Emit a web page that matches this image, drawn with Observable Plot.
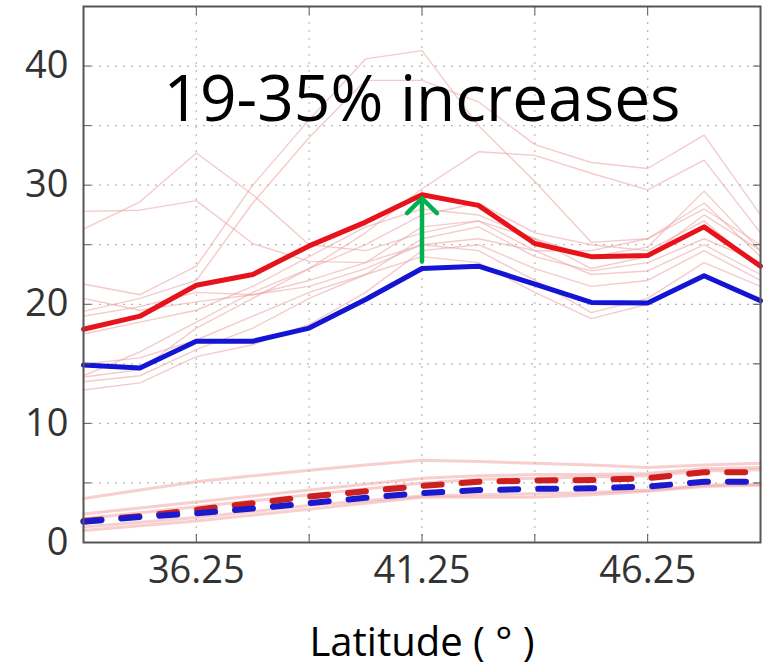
<!DOCTYPE html>
<html>
<head>
<meta charset="utf-8">
<script src="https://cdn.jsdelivr.net/npm/d3@7"></script>
<script src="https://cdn.jsdelivr.net/npm/@observablehq/plot@0.6"></script>
<style>
  html, body { margin: 0; padding: 0; background: #fff; }
  #chart svg { display: block; }
</style>
</head>
<body>
<div id="chart"></div>
<script>
// Latitudes (degrees)
const lat = [33.75, 35, 36.25, 37.5, 38.75, 40, 41.25, 42.5, 43.75, 45, 46.25, 47.5, 48.75];

// Bold series
const redThick  = [17.9, 19.0, 21.6, 22.5, 24.9, 26.9, 29.2, 28.3, 25.1, 24.0, 24.1, 26.5, 23.2];
const blueThick = [14.9, 14.65, 16.9, 16.9, 18.0, 20.4, 23.0, 23.2, 21.7, 20.15, 20.1, 22.4, 20.3];
const redDash   = [1.8, 2.2, 2.75, 3.3, 3.85, 4.3, 4.75, 5.1, 5.2, 5.25, 5.4, 5.9, 5.9];
const blueDash  = [1.75, 2.15, 2.45, 2.85, 3.3, 3.75, 4.15, 4.4, 4.5, 4.55, 4.7, 5.1, 5.1];

// Faint ensemble members (upper group)
const thinUpper = [
  [26.3, 28.6, 32.7, 29.2, 25.0, 24.5, 26.0, 27.0, 25.5, 23.0, 24.0, 27.5, 24.5],
  [27.8, 27.9, 28.7, 25.1, 23.6, 23.5, 25.0, 25.5, 24.5, 22.5, 22.8, 25.0, 22.5],
  [21.7, 20.8, 23.2, 30.0, 35.5, 40.6, 41.3, 35.0, 30.3, 25.2, 25.5, 28.5, 24.0],
  [19.4, 20.5, 22.0, 28.5, 34.0, 38.8, 38.8, 37.0, 33.4, 31.9, 31.4, 34.2, 27.5],
  [13.9, 14.5, 18.0, 20.5, 23.0, 26.0, 29.7, 32.8, 32.5, 31.0, 29.6, 32.1, 26.0],
  [12.8, 13.4, 15.6, 16.6, 18.3, 21.0, 24.5, 25.0, 23.0, 21.5, 22.0, 24.5, 22.0],
  [13.5, 14.0, 16.2, 18.0, 20.5, 22.5, 25.5, 26.5, 24.0, 22.8, 23.5, 25.5, 23.5],
  [19.0, 19.8, 21.0, 20.8, 22.0, 23.5, 26.5, 27.0, 24.5, 24.5, 25.5, 28.0, 25.0],
  [20.5, 19.5, 20.2, 20.8, 21.5, 23.0, 25.0, 24.5, 22.0, 19.3, 20.5, 23.5, 21.5],
  [15.0, 15.5, 17.0, 19.0, 21.0, 22.5, 24.0, 23.5, 21.0, 18.8, 20.0, 22.5, 20.5],
  [14.0, 16.0, 18.5, 21.0, 23.0, 25.0, 27.5, 28.5, 26.0, 25.0, 24.5, 27.0, 23.0],
  [17.5, 18.5, 19.5, 21.5, 24.0, 26.5, 28.0, 27.5, 25.5, 24.0, 24.8, 29.5, 24.5]
];
// Faint ensemble members (lower group)
const thinLower = [
  [3.7, 4.4, 5.1, 5.6, 6.06, 6.5, 6.9, 6.8, 6.65, 6.5, 6.3, 6.5, 6.65],
  [2.4, 2.9, 3.4, 3.9, 4.4, 4.9, 5.4, 5.6, 5.7, 5.7, 5.8, 6.2, 6.3],
  [2.0, 2.5, 3.0, 3.5, 4.0, 4.5, 5.0, 5.3, 5.4, 5.5, 5.6, 6.0, 6.1],
  [1.3, 1.7, 2.1, 2.6, 3.1, 3.5, 3.9, 4.0, 4.1, 4.2, 4.4, 4.8, 4.9],
  [1.0, 1.4, 1.8, 2.3, 2.8, 3.3, 3.8, 3.8, 3.8, 4.0, 4.3, 4.7, 4.8]
];

const yTickLabels = [0, 10, 20, 30, 40];
const xTickLabels = [36.25, 41.25, 46.25];
const xGrid = [36.25, 38.75, 41.25, 43.75, 46.25];
const yGrid = [5, 10, 15, 20, 25, 30, 35, 40];
const annotation = "19-35% increases";
const annotationPos = {x: 41.25, y: 35.4};
const arrowFrom = 23.6, arrowTo = 28.9, arrowLat = 41.25;
const xLabel = "Latitude ( ° )";

const toRows = (arr, id) => arr.map((v, i) => ({lat: lat[i], v, id}));
const upperRows = thinUpper.flatMap((s, k) => toRows(s, "u" + k));
const lowerRows = thinLower.flatMap((s, k) => toRows(s, "l" + k));

const chart = Plot.plot({
  width: 765,
  height: 670,
  marginLeft: 83,
  marginRight: 5,
  marginTop: 6,
  marginBottom: 128,
  style: {fontFamily: "Open Sans", background: "#fff", color: "#333"},
  x: {domain: [33.75, 48.75]},
  y: {domain: [0, 45]},
  marks: [
    Plot.gridX(xGrid, {stroke: "#999", strokeOpacity: 0.7, strokeDasharray: "2,6", strokeWidth: 1.2}),
    Plot.gridY(yGrid, {stroke: "#999", strokeOpacity: 0.7, strokeDasharray: "2,6", strokeWidth: 1.2}),
    Plot.line(upperRows, {x: "lat", y: "v", z: "id", stroke: "#eba0a0", strokeOpacity: 0.55, strokeWidth: 1.4}),
    Plot.line(lowerRows, {x: "lat", y: "v", z: "id", stroke: "#f0a0a0", strokeOpacity: 0.5, strokeWidth: 3}),
    Plot.line(toRows(redThick, "r"), {x: "lat", y: "v", stroke: "#e8121a", strokeWidth: 5}),
    Plot.line(toRows(blueThick, "b"), {x: "lat", y: "v", stroke: "#1414d4", strokeWidth: 5}),
    Plot.line(toRows(redDash, "rd"), {x: "lat", y: "v", stroke: "#cc2020", strokeWidth: 6, strokeDasharray: "18,20"}),
    Plot.line(toRows(blueDash, "bd"), {x: "lat", y: "v", stroke: "#1a1acc", strokeWidth: 6, strokeDasharray: "18,20"}),
    Plot.arrow([{x: arrowLat, y1: arrowFrom, y2: arrowTo}], {x: "x", y1: "y1", y2: "y2", stroke: "#00b050", strokeWidth: 4.5, headLength: 16, headAngle: 90}),
    Plot.text([annotation], {x: annotationPos.x, y: annotationPos.y, text: d => d, fontSize: 64, lineAnchor: "bottom", fill: "#000"}),
    Plot.frame({stroke: "#555", strokeWidth: 2}),
    Plot.axisY({anchor: "left", ticks: yGrid.concat([0]), tickSize: -8, tickFormat: () => "", stroke: "#555"}),
    Plot.axisY({anchor: "right", ticks: yGrid.concat([0]), tickSize: -8, tickFormat: () => "", stroke: "#555"}),
    Plot.axisX({anchor: "bottom", ticks: xGrid, tickSize: -8, tickFormat: () => "", stroke: "#555"}),
    Plot.axisX({anchor: "top", ticks: xGrid, tickSize: -8, tickFormat: () => "", stroke: "#555"}),
    Plot.axisY({anchor: "left", ticks: yTickLabels, tickSize: 0, tickPadding: 15, fontSize: 38, fill: "#333", label: null}),
    Plot.axisX({anchor: "bottom", ticks: xTickLabels, tickSize: 0, tickPadding: 14, fontSize: 38, fill: "#333", label: null, tickFormat: d => d.toFixed(2)}),
    Plot.text([xLabel], {frameAnchor: "bottom", dy: 113, text: d => d, fontSize: 40, lineAnchor: "bottom", fill: "#000"})
  ]
});
document.getElementById("chart").appendChild(chart);
</script>
</body>
</html>
